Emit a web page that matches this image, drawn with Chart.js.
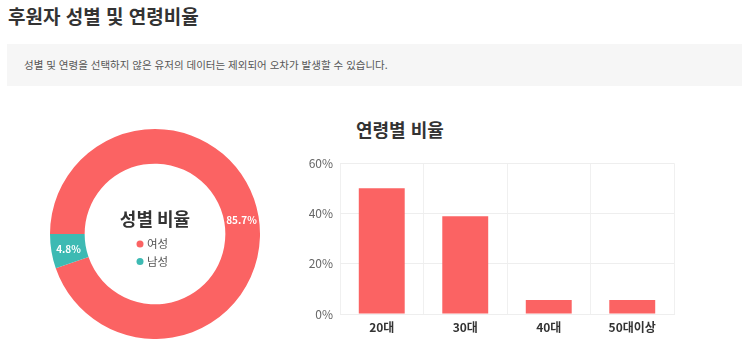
<!DOCTYPE html>
<html lang="ko">
<head>
<meta charset="utf-8">
<script src="https://cdn.jsdelivr.net/npm/chart.js@4/dist/chart.umd.min.js"></script>
<style>
  html, body { margin:0; padding:0; background:#fff; }
  body { width:750px; height:363px; position:relative; overflow:hidden; font-family:"Noto Sans CJK KR", "Noto Sans", sans-serif; }
  #title { position:absolute; left:8px; top:3px; font-size:19px; font-weight:bold; color:#333; margin:0; line-height:26px; }
  #notice { position:absolute; left:7px; top:44px; width:735px; height:42px; background:#f6f6f6; }
  #notice span { position:absolute; left:17px; top:13px; font-size:10.5px; line-height:16px; color:#555; }
  #barTitle { position:absolute; left:356px; top:117px; font-size:18px; font-weight:bold; color:#333; line-height:24px; margin:0; }
  #donutWrap { position:absolute; left:50px; top:129px; width:210px; height:210px; }
  #barWrap { position:absolute; left:300px; top:149px; width:380px; height:191px; }
</style>
</head>
<body>
<h1 id="title">후원자 성별 및 연령비율</h1>
<div id="notice"><span>성별 및 연령을 선택하지 않은 유저의 데이터는 제외되어 오차가 발생할 수 있습니다.</span></div>
<h2 id="barTitle">연령별 비율</h2>
<div id="donutWrap"><canvas id="donut" width="210" height="210"></canvas></div>
<div id="barWrap"><canvas id="bar" width="380" height="191"></canvas></div>
<script>
const FONT = '"Noto Sans CJK KR", "Noto Sans", sans-serif';
const genderTitle = '성별 비율';
const genderLabels = ['여성', '남성'];
const genderValues = [85.7, 4.8];
const genderColors = ['#fb6363', '#3dbab3'];

const ageLabels = ['20대', '30대', '40대', '50대이상'];
const ageValues = [50, 38.9, 5.6, 5.6];
const yTickValues = [0, 20, 40, 60];

Chart.defaults.font.family = FONT;

const donutLabels = {
  id: 'donutLabels',
  afterDatasetsDraw(chart) {
    const ctx = chart.ctx;
    const meta = chart.getDatasetMeta(0);
    ctx.save();
    ctx.fillStyle = '#fff';
    ctx.font = 'bold 10px ' + FONT;
    ctx.textAlign = 'center';
    ctx.textBaseline = 'middle';
    meta.data.forEach((arc, i) => {
      const p = arc.tooltipPosition();
      ctx.fillText(genderValues[i] + '%', p.x, p.y + 1);
    });
    const cx = (chart.chartArea.left + chart.chartArea.right) / 2;
    const cy = (chart.chartArea.top + chart.chartArea.bottom) / 2;
    ctx.fillStyle = '#333';
    ctx.font = 'bold 18px ' + FONT;
    ctx.fillText(genderTitle, cx, cy - 15);
    ctx.font = '11.5px ' + FONT;
    ctx.textAlign = 'left';
    genderLabels.forEach((lab, i) => {
      const y = cy + 10 + i * 17.5;
      ctx.fillStyle = genderColors[i];
      ctx.beginPath();
      ctx.arc(cx - 15, y, 3.5, 0, Math.PI * 2);
      ctx.fill();
      ctx.fillStyle = '#555';
      ctx.fillText(lab, cx - 8, y);
    });
    ctx.restore();
  }
};

new Chart(document.getElementById('donut'), {
  type: 'doughnut',
  data: {
    labels: genderLabels,
    datasets: [{ data: genderValues, backgroundColor: genderColors, borderWidth: 0, hoverOffset: 0 }]
  },
  options: {
    responsive: false,
    animation: false,
    cutout: '67%',
    rotation: -90,
    layout: { padding: 0 },
    plugins: { legend: { display: false }, tooltip: { enabled: false } }
  },
  plugins: [donutLabels]
});

new Chart(document.getElementById('bar'), {
  type: 'bar',
  data: {
    labels: ageLabels,
    datasets: [{ data: ageValues, backgroundColor: '#fb6363', borderWidth: 0, barPercentage: 0.55, categoryPercentage: 1 }]
  },
  options: {
    responsive: false,
    animation: false,
    layout: { padding: { top: 12, right: 6, left: 0, bottom: 0 } },
    plugins: { legend: { display: false }, tooltip: { enabled: false } },
    scales: {
      x: {
        grid: { color: '#f0f0f0', drawTicks: false },
        border: { color: '#eeeeee' },
        ticks: { color: '#333', font: { size: 12, weight: 'bold' }, padding: 6 },
        afterFit(s) { s.height = 26; }
      },
      y: {
        min: 0, max: 60,
        grid: { color: '#eeeeee', drawTicks: false },
        border: { display: false },
        ticks: { color: '#666', font: { size: 12 }, padding: 7, callback: v => v + '%' },
        afterBuildTicks(s) { s.ticks = yTickValues.map(v => ({ value: v })); },
        afterFit(s) { s.width = 40; }
      }
    }
  }
});
</script>
</body>
</html>
